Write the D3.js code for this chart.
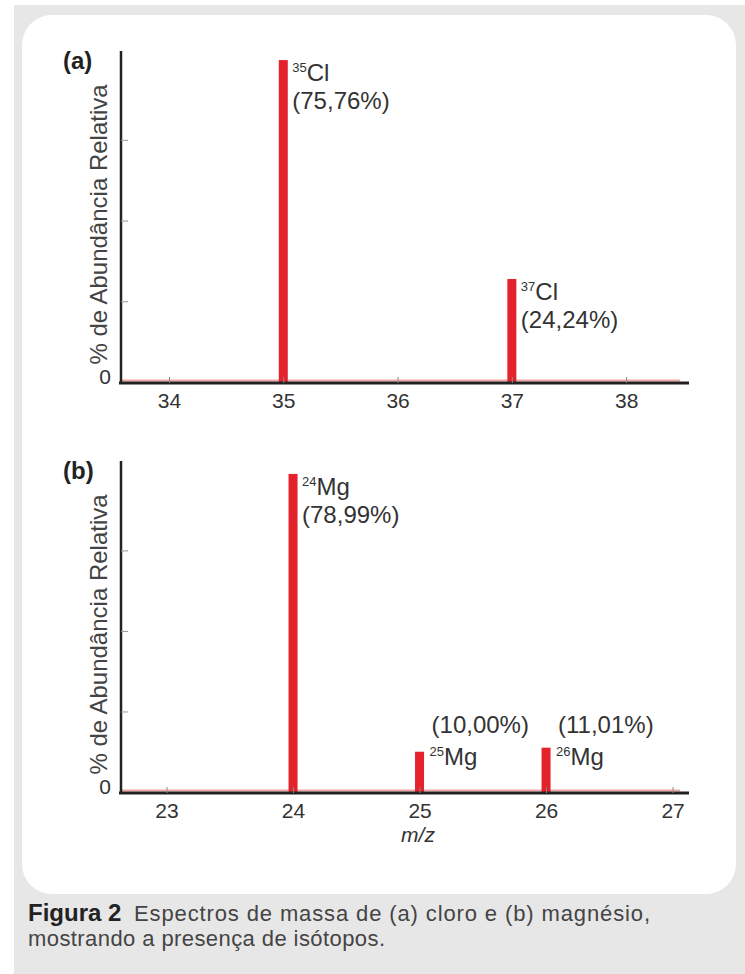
<!DOCTYPE html>
<html><head><meta charset="utf-8">
<script src="https://cdn.jsdelivr.net/npm/d3@7"></script>
<style>
html,body{margin:0;padding:0;background:#fff;}
svg{display:block;}
text{font-family:"Liberation Sans",Arial,Helvetica,sans-serif;}
</style></head>
<body>
<svg id="c" width="745" height="974"></svg>
<script>
// ---- data ----
const clMass = [35, 37];
const clAbund = [75.76, 24.24];
const clLabels = ["(75,76%)", "(24,24%)"];
const mgMass = [24, 25, 26];
const mgAbund = [78.99, 10.00, 11.01];
const mgLabels = ["(78,99%)", "(10,00%)", "(11,01%)"];
const clTicks = [34, 35, 36, 37, 38];
const mgTicks = [23, 24, 25, 26, 27];
const yTicksA = [19, 38, 57];
const yTicksB = [20, 40, 60];

const svg = d3.select("#c");
// background
svg.append("rect").attr("x",14).attr("y",5).attr("width",731).attr("height",969).attr("fill","#e7e7e7");
svg.append("rect").attr("x",22).attr("y",15).attr("width",714).attr("height",879).attr("rx",30).attr("fill","#fff");

const RED = "#e3222b";
const TXT = "#333";

function panel(opt){
  const g = svg.append("g");
  const x = d3.scaleLinear().domain(opt.xDom).range([121, 689]);
  const y = d3.scaleLinear().domain(opt.yDom).range([opt.base, opt.top]);
  // pink baseline of the spectrum
  g.append("line").attr("x1",122).attr("x2",680).attr("y1",y(0)-1.5).attr("y2",y(0)-1.5)
    .attr("stroke","#f2a3a6").attr("stroke-width",2);
  // bars
  g.selectAll("rect.bar").data(opt.mass).join("rect")
    .attr("x",d=>x(d)-4.5).attr("width",9)
    .attr("y",(d,i)=>y(opt.abund[i])).attr("height",(d,i)=>y(0)-y(opt.abund[i]))
    .attr("fill",RED);
  // x axis
  const xa = g.append("g").attr("transform",`translate(0,${opt.base+1})`)
    .call(d3.axisBottom(x).tickValues(opt.xTicks).tickSize(-6).tickPadding(10).tickFormat(d3.format("d")));
  xa.select(".domain").attr("stroke","#222").attr("stroke-width",3).attr("d",`M119,0H689`);
  xa.selectAll(".tick line").attr("stroke","#888").attr("stroke-width",1);
  xa.selectAll(".tick text").attr("font-size",21).attr("fill",TXT).attr("dy","0.71em");
  // y axis
  const ya = g.append("g").attr("transform",`translate(121,0)`)
    .call(d3.axisLeft(y).tickValues(opt.yTicks).tickSize(-7).tickFormat(""));
  ya.select(".domain").attr("stroke","#222").attr("stroke-width",2.5).attr("d",`M0,${opt.top}V${opt.base+2}`);
  ya.selectAll(".tick line").attr("stroke","#999").attr("stroke-width",1);
  g.append("text").attr("x",105).attr("y",y(0)+2).attr("text-anchor","middle").attr("font-size",21).attr("fill",TXT).text("0");
  // y title
  g.append("text").attr("transform",`translate(107,${(opt.top+opt.base)/2+8}) rotate(-90)`)
    .attr("text-anchor","middle").attr("font-size",24).attr("fill","#444")
    .text("% de Abundância Relativa");
  // panel letter
  g.append("text").attr("x",63).attr("y",opt.top+18).attr("font-size",24).attr("font-weight","bold").attr("fill","#222").text(opt.letter);
  // annotations
  opt.mass.forEach((m,i)=>{
    const by = y(opt.abund[i]);
    const pos = opt.place[i];
    let symY, pctY, sx, px;
    if(pos==="below"){ symY = by+21; pctY = by+49; sx = x(m)+9; px = x(m)+9; }
    else { pctY = y(0)-59; symY = y(0)-27; sx = x(m)+10; px = x(m)+12; }
    const t = g.append("text").attr("x",sx).attr("y",symY).attr("fill",TXT);
    t.append("tspan").attr("font-size",13).attr("dy",-9).text(m);
    t.append("tspan").attr("font-size",24).attr("dy",9).text(opt.el);
    g.append("text").attr("x",px).attr("y",pctY).attr("font-size",24).attr("fill",TXT).text(opt.labels[i]);
  });
}

panel({xDom:[33.58,38.55], yDom:[0,77.9], base:382, top:51, mass:clMass, abund:clAbund, labels:clLabels,
  xTicks:clTicks, yTicks:yTicksA, el:"Cl", letter:"(a)", place:["below","below"]});
panel({xDom:[22.64,27.13], yDom:[0,82.2], base:792, top:461, mass:mgMass, abund:mgAbund, labels:mgLabels,
  xTicks:mgTicks, yTicks:yTicksB, el:"Mg", letter:"(b)", place:["below","above","above"]});

svg.append("text").attr("x",418).attr("y",842).attr("text-anchor","middle").attr("font-size",21)
  .attr("font-style","italic").attr("fill",TXT).text("m/z");

svg.append("text").attr("x",28).attr("y",921).attr("font-size",24).attr("font-weight","bold").attr("fill","#222")
  .text("Figura 2");
svg.append("text").attr("x",134).attr("y",921).attr("font-size",22).attr("fill","#444")
  .attr("textLength",516).attr("lengthAdjust","spacing").text("Espectros de massa de (a) cloro e (b) magnésio,");
svg.append("text").attr("x",28).attr("y",946).attr("font-size",22).attr("fill","#444")
  .attr("textLength",357).attr("lengthAdjust","spacing").text("mostrando a presença de isótopos.");
</script>
</body></html>
